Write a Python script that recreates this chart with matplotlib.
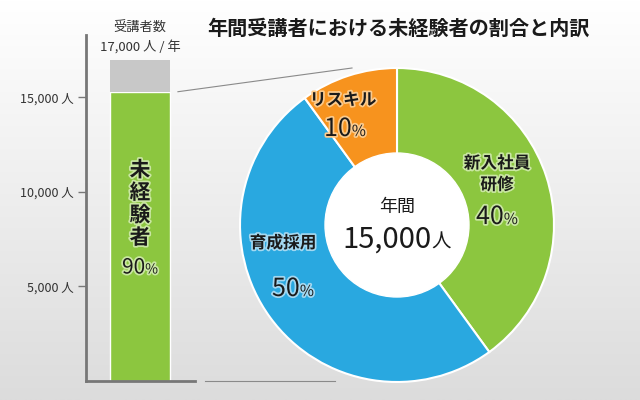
import numpy as np
import matplotlib
matplotlib.use('Agg')
import matplotlib.pyplot as plt
import matplotlib.patheffects as pe
from matplotlib.colors import LinearSegmentedColormap
from matplotlib.patches import Circle

plt.rcParams['font.family'] = ['Noto Sans CJK JP', 'DejaVu Sans']

# data
total = 17000
inexperienced = 15300
inexperienced_pct = '90'
tick_values = [5000, 10000, 15000]
tick_labels = ['5,000 人', '10,000 人', '15,000 人']
segment_names = ['新入社員\n研修', '育成採用', 'リスキル']
segment_pcts = [40, 50, 10]
segment_colors = ['#8cc63f', '#29a8e0', '#f7931e']
glow_colors = ['#c9e6a2', '#a3d8f1', '#fbca8c']
center_total = '15,000'

fig = plt.figure(figsize=(6.4, 4), dpi=100)

# background gradient
bg = fig.add_axes([0, 0, 1, 1], zorder=0)
grad = np.linspace(0, 1, 256).reshape(-1, 1)
cmap = LinearSegmentedColormap.from_list('bg', ['#ffffff', '#dcdcdc'])
bg.imshow(grad, cmap=cmap, aspect='auto', extent=[0, 1, 0, 1])
bg.axis('off')

# stacked bar
ax = fig.add_axes([86 / 640, 19 / 400, 109 / 640, 346 / 400], zorder=1)
ax.patch.set_alpha(0)
ax.bar(0.495, inexperienced, width=0.55, color='#8cc63f', edgecolor='white', linewidth=1)
ax.bar(0.495, total - inexperienced, bottom=inexperienced, width=0.55, color='#c8c8c8')
ax.set_xlim(0, 1)
ax.set_ylim(0, 18300)
ax.set_xticks([])
ax.set_yticks(tick_values, tick_labels)
ax.tick_params(axis='y', length=6, width=1, color='#777777', labelsize=9,
               labelcolor='#333333', pad=3)
for s in ['top', 'right']:
    ax.spines[s].set_visible(False)
for s in ['left', 'bottom']:
    ax.spines[s].set_color('#777777')
    ax.spines[s].set_linewidth(2)

# donut
pa = fig.add_axes([240 / 640, 18 / 400, 314 / 640, 314 / 400], zorder=1)
pa.pie(segment_pcts, colors=segment_colors, startangle=90, counterclock=False,
       radius=1, wedgeprops=dict(edgecolor='white', linewidth=1.5))
pa.add_patch(Circle((0, 0), 72 / 157, color='white', zorder=5))
pa.set_xlim(-1, 1)
pa.set_ylim(-1, 1)
pa.set_aspect('auto')
pa.axis('off')

# overlay in pixel coordinates
ov = fig.add_axes([0, 0, 1, 1], zorder=3)
ov.set_xlim(0, 640)
ov.set_ylim(400, 0)
ov.axis('off')
ov.patch.set_alpha(0)

# connector lines
bx, by = ax.transData.transform((0.495 + 0.55 / 2, inexperienced))
ov.plot([bx + 8, 352], [400 - by, 68], color='#8a8a8a', lw=0.8)
ov.plot([205, 335], [381, 381], color='#8a8a8a', lw=0.8)


def glow(c):
    return [pe.withStroke(linewidth=2.5, foreground=c)] if c else []


def num_unit(x, y, num, unit, size, unit_size, gc=None, color='#1a1a1a'):
    base = y + 0.36 * size * 100 / 72
    t1 = ov.text(0, base, num, fontsize=size, ha='left', va='baseline',
                 color=color, path_effects=glow(gc))
    t2 = ov.text(0, base, unit, fontsize=unit_size, ha='left', va='baseline',
                 color=color, path_effects=glow(gc))
    r = fig.canvas.get_renderer()
    w1 = t1.get_window_extent(r).width
    w2 = t2.get_window_extent(r).width
    left = x - (w1 + w2) / 2
    t1.set_x(left)
    t2.set_x(left + w1)


ov.text(398, 28, '年間受講者における未経験者の割合と内訳', fontsize=14.5,
        fontweight='bold', ha='center', va='center', color='#1a1a1a')
ov.text(140, 28, '受講者数', fontsize=9.5, ha='center', va='center', color='#333333')
ov.text(140, 47, '17,000 人 / 年', fontsize=9.5, ha='center', va='center', color='#333333')

# bar label
for i, ch in enumerate('未経験者'):
    ov.text(140, 170 + 22.5 * i, ch, fontsize=15, fontweight='bold', ha='center',
            va='center', color='#1a1a1a', path_effects=glow(glow_colors[0]))
num_unit(140, 266, inexperienced_pct, '%', 15, 10, glow_colors[0])

# pie labels
name_pos = [(497, 174), (283, 243), (343, 100)]
pct_pos = [(497, 215), (293, 287), (345, 127)]
for name, pct, gc, (nx, ny), (px, py) in zip(segment_names, segment_pcts, glow_colors,
                                             name_pos, pct_pos):
    ov.text(nx, ny, name, fontsize=12, fontweight='bold', ha='center', va='center',
            color='#1a1a1a', linespacing=1.25, path_effects=glow(gc))
    num_unit(px, py, str(pct), '%', 18, 11, gc)

ov.text(397, 207, '年間', fontsize=13, ha='center', va='center', color='#1a1a1a')
num_unit(397, 237, center_total, '人', 21, 14)

fig.savefig('out.png', dpi=100)
